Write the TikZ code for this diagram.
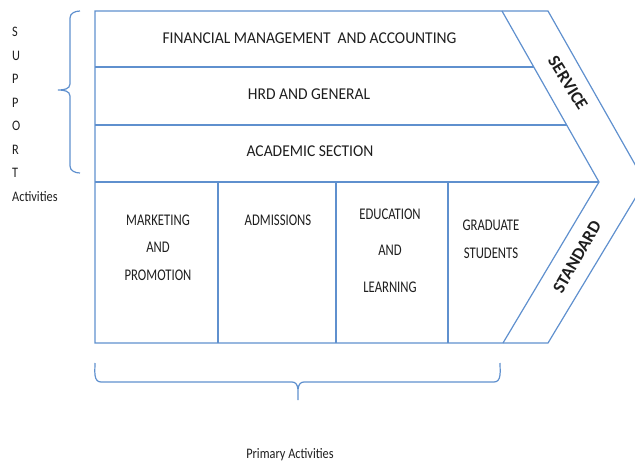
\documentclass[tikz,border=0pt]{standalone}
\usepackage{fontspec}
\setmainfont{Carlito}
\usepackage{graphicx}
\definecolor{lb}{RGB}{95,144,206}
\definecolor{tx}{RGB}{30,30,30}
\newcommand{\cx}[1]{\scalebox{0.78}[1]{#1}}
\newcommand{\sx}[1]{\scalebox{0.85}[1]{#1}}
\newcommand{\tx}[1]{\scalebox{0.94}[1]{#1}}
\tikzset{
  frame/.style={draw=lb, line width=1.2pt, line join=miter},
  toptext/.style={text=tx, font=\fontsize{16.5}{18}\selectfont, inner sep=0pt},
  celltext/.style={text=tx, align=center, inner sep=0pt},
  sidetext/.style={text=tx, font=\fontsize{14.5}{18}\selectfont, inner sep=0pt, anchor=west},
  chevtext/.style={text=tx, font=\fontsize{17.5}{20}\bfseries\selectfont, inner sep=0pt},
  bracestyle/.style={draw=lb, line width=1.2pt}
}
\begin{document}
\begin{tikzpicture}[x=1pt,y=-1pt]
\useasboundingbox (0,0) rectangle (635,466);
\clip (0,0) rectangle (635,466);
% coordinates
\coordinate (tl) at (95,11);
\coordinate (bl) at (95,343);
\coordinate (itop) at (502,11);
\coordinate (itip) at (599,182);
\coordinate (ibot) at (503,343);
\coordinate (otop) at (548,11);
\coordinate (otip) at (645,182);
\coordinate (obot) at (548,343);
% outline
\draw[frame] (tl) -- (otop) -- (otip) -- (obot) -- (bl) -- cycle;
\draw[frame] (itop) -- (itip) -- (ibot);
% horizontal row lines
\coordinate (r1l) at (95,67);  \coordinate (r1r) at (533.8,67);
\coordinate (r2l) at (95,125); \coordinate (r2r) at (566.7,125);
\coordinate (r3l) at (95,182);
\draw[frame] (r1l) -- (r1r);
\draw[frame] (r2l) -- (r2r);
\draw[frame] (r3l) -- (itip);
% vertical dividers
\coordinate (d1t) at (218,182); \coordinate (d1b) at (218,343);
\coordinate (d2t) at (336,182); \coordinate (d2b) at (336,343);
\coordinate (d3t) at (448,182); \coordinate (d3b) at (448,343);
\draw[frame] (d1t) -- (d1b);
\draw[frame] (d2t) -- (d2b);
\draw[frame] (d3t) -- (d3b);
% support rows text
\node[toptext] (fin) at (309.5,38) {\tx{FINANCIAL MANAGEMENT\ \ AND ACCOUNTING}};
\node[toptext] (hrd) at (309,94) {\tx{HRD AND GENERAL}};
\node[toptext] (aca) at (310,151) {\tx{ACADEMIC SECTION}};
% primary cells
\node[celltext, font=\fontsize{16.3}{27.5}\selectfont] (mkt) at (158,247.5) {\cx{MARKETING}\\\cx{AND}\\\cx{PROMOTION}};
\node[celltext, font=\fontsize{16.3}{18}\selectfont] (adm) at (278,220) {\cx{ADMISSIONS}};
\node[celltext, font=\fontsize{16.3}{36.5}\selectfont] (edu) at (390,250.5) {\cx{EDUCATION}\\\cx{AND}\\\cx{LEARNING}};
\node[celltext, font=\fontsize{16.3}{28}\selectfont] (grad) at (491,239) {\cx{GRADUATE}\\\cx{STUDENTS}};
% chevron labels
\node[chevtext, rotate=-58] (srv) at (568,83) {SERVICE};
\node[chevtext, rotate=60] (std) at (577,257) {STANDARD};
% support side label
\node[sidetext] (s1) at (12,32) {\sx{S}};
\node[sidetext] (s2) at (12,55.5) {\sx{U}};
\node[sidetext] (s3) at (12,79) {\sx{P}};
\node[sidetext] (s4) at (12,102.5) {\sx{P}};
\node[sidetext] (s5) at (12,126) {\sx{O}};
\node[sidetext] (s6) at (12,149.5) {\sx{R}};
\node[sidetext] (s7) at (12,173) {\sx{T}};
\node[sidetext] (act) at (12,197) {\sx{Activities}};
% left brace
\coordinate (lb1) at (80,11);
\coordinate (lb2) at (70,18);
\coordinate (lb3) at (70,84);
\coordinate (lbtip) at (58,90);
\coordinate (lb4) at (70,96);
\coordinate (lb5) at (70,166);
\coordinate (lb6) at (80,173);
\draw[bracestyle] (lb1) to[out=180,in=90] (lb2) -- (lb3) to[out=270,in=0] (lbtip)
  to[out=0,in=90] (lb4) -- (lb5) to[out=270,in=180] (lb6);
% bottom brace
\coordinate (bb1) at (95,363);
\coordinate (bb2) at (101,382);
\coordinate (bb3) at (292,382);
\coordinate (bbtip) at (298,400);
\coordinate (bb4) at (304,382);
\coordinate (bb5) at (494,382);
\coordinate (bb6) at (500,363);
\draw[bracestyle] (bb1) to[out=270,in=180] (bb2) -- (bb3) to[out=0,in=90] (bbtip)
  to[out=90,in=180] (bb4) -- (bb5) to[out=0,in=270] (bb6);
\node[sidetext, anchor=center] (prim) at (290,455) {\sx{Primary Activities}};
\end{tikzpicture}
\end{document}
